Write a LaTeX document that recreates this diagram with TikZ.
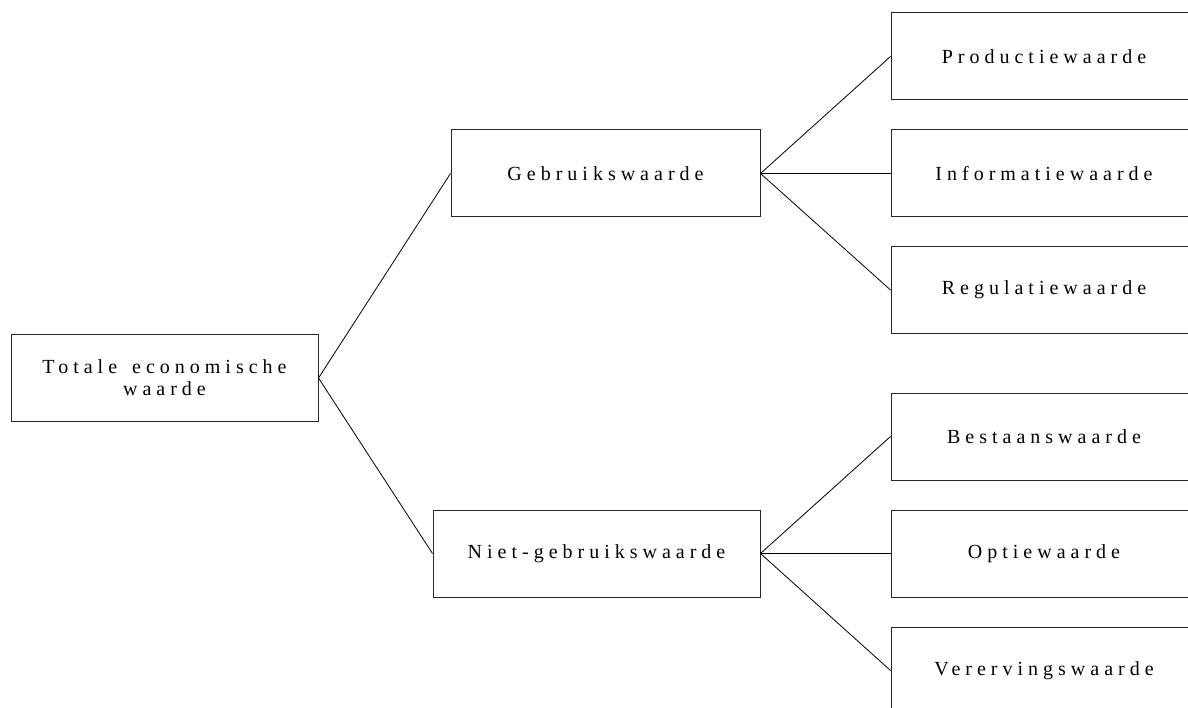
\documentclass[tikz,border=0pt]{standalone}
\usepackage{fontspec}
\newfontfamily\spaced[LetterSpace=25]{Liberation Serif}
\usetikzlibrary{positioning}
\tikzstyle{waarde} = [rectangle, minimum width=306pt, minimum height=87pt, align=center, draw=black!85, line width=1pt, fill=white, font=\spaced\fontsize{20}{22}\selectfont]
\tikzstyle{line} = [line width=0.8pt]

\begin{document}
\begin{tikzpicture}[on grid]
 \useasboundingbox (0,0) rectangle (1188pt,-708pt);
 \clip (0,0) rectangle (1188pt,-708pt);
 \node (totale) [waarde, minimum width=307pt, minimum height=86pt] at (164.5pt,-378pt) {Totale\hspace{5pt} economische\\waarde};
 \node (gebruik) [waarde, minimum width=309pt, above right=204.5pt and 441pt of totale] {Gebruikswaarde};
 \node (niet) [waarde, minimum width=327pt, below right=175.5pt and 432pt of totale] {Niet-gebruikswaarde};

 \node (productie) [waarde, above right=117pt and 438.5pt of gebruik] {Productiewaarde};
 \node (informatie) [waarde, right=438.5pt of gebruik] {Informatiewaarde};
 \node (regulatie) [waarde, below right=116.5pt and 438.5pt of gebruik] {Regulatiewaarde};

 \node (bestaan) [waarde, above right=117pt and 447.5pt of niet] {Bestaanswaarde};
 \node (optie) [waarde, right=447.5pt of niet] {Optiewaarde};
 \node (vererving) [waarde, below right=117pt and 447.5pt of niet] {Verervingswaarde};

 \draw [line] (totale.east) -- (gebruik.west);
 \draw [line] (totale.east) -- (niet.west);
 \draw [line] (gebruik.east) -- (productie.west);
 \draw [line] (gebruik.east) -- (informatie.west);
 \draw [line] (gebruik.east) -- (regulatie.west);
 \draw [line] (niet.east) -- (bestaan.west);
 \draw [line] (niet.east) -- (optie.west);
 \draw [line] (niet.east) -- (vererving.west);
\end{tikzpicture}
\end{document}
